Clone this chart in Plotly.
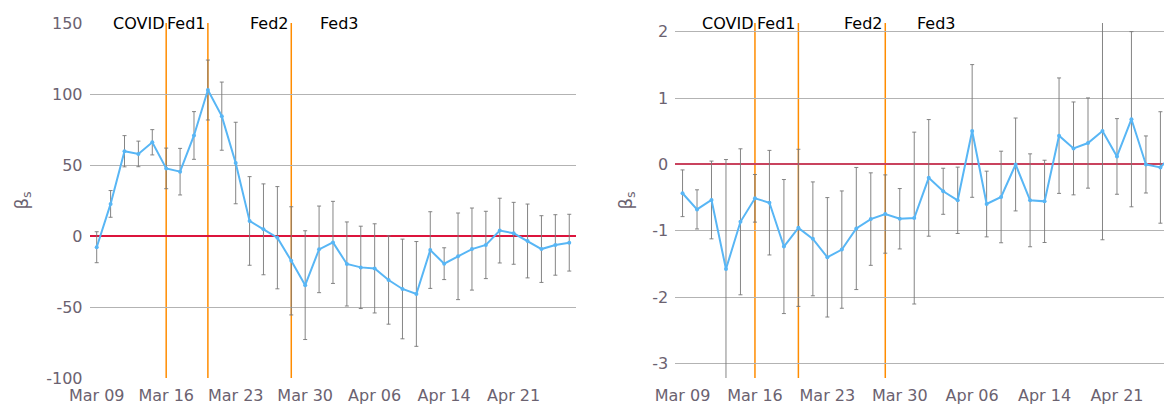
import plotly.graph_objects as go

dates = ["Mar 09", "Mar 10", "Mar 11", "Mar 12", "Mar 13",
         "Mar 16", "Mar 17", "Mar 18", "Mar 19", "Mar 20",
         "Mar 23", "Mar 24", "Mar 25", "Mar 26", "Mar 27",
         "Mar 30", "Mar 31", "Apr 01", "Apr 02", "Apr 03",
         "Apr 06", "Apr 07", "Apr 08", "Apr 09",
         "Apr 13", "Apr 14", "Apr 15", "Apr 16", "Apr 17",
         "Apr 20", "Apr 21", "Apr 22", "Apr 23", "Apr 24",
         "Apr 27"]
tick_dates = ["Mar 09", "Mar 16", "Mar 23", "Mar 30", "Apr 06", "Apr 14", "Apr 21"]

beta_left = [-7.9, 22.6, 59.7, 57.8, 66.0, 47.6, 45.3, 70.8, 102.8, 84.4,
             51.4, 10.6, 4.7, -1.2, -17.5, -34.6, -9.4, -4.5, -19.7, -22.1,
             -22.8, -31.0, -37.3, -40.8, -9.9, -19.5, -14.3, -9.2, -6.3, 3.8,
             1.9, -3.5, -9.2, -6.3, -4.7]
err_left = [10.9, 9.4, 11.0, 9.0, 8.9, 14.3, 16.4, 16.8, 21.1, 24.0,
            28.7, 31.2, 32.0, 36.0, 38.1, 38.3, 30.5, 28.9, 29.6, 29.0,
            31.4, 31.1, 35.1, 36.9, 27.0, 11.2, 30.5, 28.9, 23.7, 22.8,
            21.8, 26.0, 23.5, 21.3, 20.0]

beta_right = [-0.434, -0.677, -0.535, -1.576, -0.864, -0.51, -0.576, -1.237, -0.955, -1.121,
              -1.399, -1.283, -0.965, -0.823, -0.747, -0.818, -0.808, -0.202, -0.404, -0.54,
              0.505, -0.596, -0.49, 0.0, -0.54, -0.556, 0.434, 0.242, 0.323, 0.505,
              0.121, 0.682, 0.0, -0.045, 0.2]
err_right = [0.352, 0.295, 0.586, 1.65, 1.10, 0.359, 0.788, 1.01, 1.184, 0.858,
             0.90, 0.884, 0.92, 0.697, 0.59, 0.455, 1.295, 0.879, 0.347, 0.50,
             1.0, 0.495, 0.69, 0.70, 0.70, 0.62, 0.87, 0.70, 0.68, 1.64,
             0.57, 1.32, 0.43, 0.84, 0.6]

events = ["COVID", "Fed1", "Fed2", "Fed3"]
event_dates = ["Mar 16", "Mar 19", "Mar 27", "Apr 03"]
event_lines = [True, True, True, False]

left_ticks = [-100, -50, 0, 50, 100, 150]
right_ticks = [-3, -2, -1, 0, 1, 2]

LINE = "rgb(88,182,245)"
TICKC = "#6b6270"
GRID = "#b3b3b3"
FONT = "DejaVu Sans"

fig = go.Figure()
for k, (ys, es) in enumerate([(beta_left, err_left), (beta_right, err_right)]):
    sfx = "" if k == 0 else "2"
    fig.add_trace(go.Scatter(
        x=dates, y=ys, mode="lines+markers",
        line=dict(color=LINE, width=2), marker=dict(color=LINE, size=4),
        error_y=dict(type="data", array=es, visible=True, color="rgba(120,120,120,0.9)",
                     thickness=1, width=2),
        xaxis="x" + sfx, yaxis="y" + sfx, showlegend=False))

# page body has an 8px margin; figure coordinates = page coordinates - 8
W = 1164
H = 397
ax_common = dict(type="category", categoryorder="array", categoryarray=dates,
                 tickmode="array", tickvals=tick_dates, ticktext=tick_dates,
                 showgrid=False, zeroline=False, showline=False, automargin=False,
                 tickfont=dict(family=FONT, size=16, color=TICKC),
                 ticks="outside", ticklen=3, tickcolor="rgba(0,0,0,0)")
y_common = dict(domain=[0, 1], tickmode="array", showgrid=True, gridcolor=GRID, gridwidth=1,
                zeroline=True, showline=False, automargin=False,
                ticks="outside", ticklen=3, tickcolor="rgba(0,0,0,0)",
                tickfont=dict(family=FONT, size=16, color=TICKC))
fig.update_layout(
    template="none",
    width=W, height=H,
    margin=dict(l=0, r=0, t=15.3, b=27.3),
    plot_bgcolor="white", paper_bgcolor="white",
    font=dict(family=FONT),
    xaxis=dict(domain=[81.75 / W, 568.2 / W], range=[-0.5, 34.5], anchor="y", **ax_common),
    xaxis2=dict(domain=[667.3 / W, 1.0], range=[-0.5, 33.8], anchor="y2", **ax_common),
    yaxis=dict(range=[-100, 150], anchor="x",
               tickvals=left_ticks, ticktext=[str(v) for v in left_ticks],
               zerolinecolor="crimson", zerolinewidth=1.6, **y_common),
    yaxis2=dict(range=[-3.218, 2.132], anchor="x2",
                tickvals=right_ticks, ticktext=[str(v) for v in right_ticks],
                zerolinecolor="#c9435e", zerolinewidth=2, **y_common),
)

for sfx in ["", "2"]:
    for name, d, has_line in zip(events, event_dates, event_lines):
        if has_line:
            fig.add_shape(type="line", xref="x" + sfx, yref="y" + sfx + " domain",
                          x0=d, x1=d, y0=0, y1=1, layer="below",
                          line=dict(color="darkorange", width=1.5))
        fig.add_annotation(x=d, y=1, xref="x" + sfx, yref="y" + sfx + " domain",
                           text=name, showarrow=False, xanchor="right", yanchor="middle",
                           font=dict(family=FONT, size=16, color="black"))

for xpos in [14, 618]:
    fig.add_annotation(x=xpos / W, y=0.5, xref="paper", yref="paper",
                       text="β<sub>s</sub>", showarrow=False, textangle=-90,
                       xanchor="center", yanchor="middle",
                       font=dict(family=FONT, size=18, color=TICKC))

fig.write_html("out.html")
